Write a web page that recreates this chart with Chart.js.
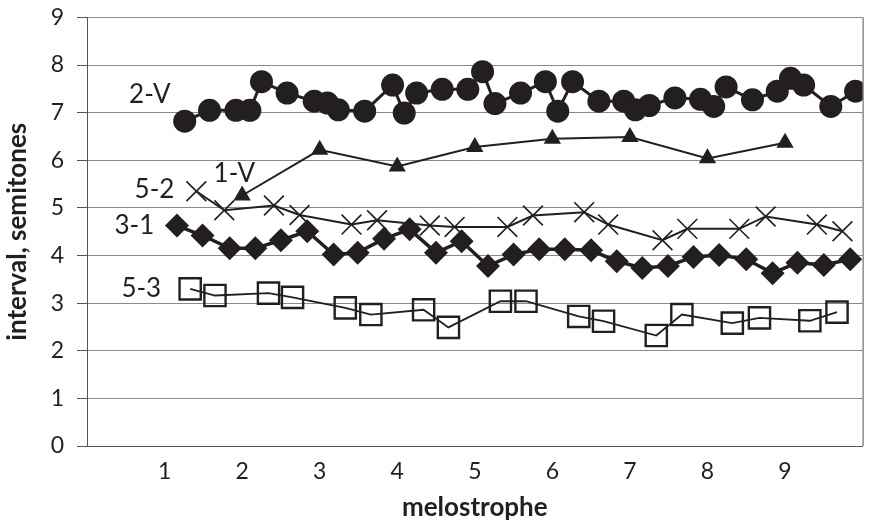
<!DOCTYPE html>
<html>
<head>
<meta charset="utf-8">
<script src="https://cdn.jsdelivr.net/npm/chart.js@4"></script>
<style>
  html, body { margin: 0; padding: 0; background: #fff; }
  #wrap { width: 880px; height: 523px; }
</style>
</head>
<body>
<div id="wrap"><canvas id="intervalChart"></canvas></div>
<script>
// x positions (melostrophe) and interval values
const v2X = [1.26, 1.58, 1.92, 2.10, 2.25, 2.58, 2.93, 3.10, 3.24, 3.58, 3.94, 4.09, 4.25, 4.58, 4.91, 5.10, 5.26, 5.59,
    5.91, 6.07, 6.26, 6.60, 6.92, 7.07, 7.25, 7.58, 7.91, 8.08, 8.24, 8.58, 8.90, 9.07, 9.24, 9.59, 9.91];
const v2Y = [6.82, 7.05, 7.05, 7.05, 7.65, 7.41, 7.24, 7.20, 7.06, 7.03, 7.58, 6.99, 7.41, 7.49, 7.49, 7.86, 7.19, 7.41,
    7.65, 7.03, 7.65, 7.24, 7.24, 7.06, 7.15, 7.31, 7.28, 7.13, 7.54, 7.27, 7.45, 7.72, 7.58, 7.13, 7.45];

const v1X = [2, 3, 4, 5, 6, 7, 8, 9];
const v1Y = [5.26, 6.22, 5.87, 6.28, 6.45, 6.49, 6.04, 6.37];

const s52X = [1.41, 1.77, 2.41, 2.74, 3.41, 3.74, 4.42, 4.74, 5.42, 5.75, 6.41, 6.72, 7.42, 7.74, 8.41, 8.75, 9.41, 9.74];
const s52Y = [5.35, 4.95, 5.05, 4.85, 4.65, 4.74, 4.63, 4.60, 4.60, 4.84, 4.91, 4.65, 4.32, 4.56, 4.56, 4.82, 4.65, 4.51];

const s31X = [1.16, 1.49, 1.84, 2.17, 2.50, 2.84, 3.18, 3.49, 3.83, 4.16, 4.50, 4.83, 5.17, 5.50, 5.83, 6.16, 6.50,
    6.83, 7.16, 7.49, 7.82, 8.15, 8.50, 8.84, 9.16, 9.50, 9.84];
const s31Y = [4.63, 4.42, 4.15, 4.15, 4.32, 4.51, 4.02, 4.06, 4.35, 4.55, 4.06, 4.30, 3.78, 4.02, 4.13, 4.13, 4.11,
    3.88, 3.74, 3.78, 3.97, 4.01, 3.92, 3.63, 3.85, 3.80, 3.92];

const s53X = [1.33, 1.65, 2.34, 2.65, 3.33, 3.66, 4.34, 4.66, 5.33, 5.66, 6.34, 6.66, 7.34, 7.67, 8.32, 8.67, 9.32, 9.67];
const s53Y = [3.30, 3.16, 3.21, 3.12, 2.90, 2.76, 2.86, 2.49, 3.04, 3.04, 2.72, 2.62, 2.32, 2.76, 2.58, 2.69, 2.63, 2.81];

const xTicks = [1, 2, 3, 4, 5, 6, 7, 8, 9];
const yTicks = [0, 1, 2, 3, 4, 5, 6, 7, 8, 9];

const ink = '#231f20';
const font = 'Lato, "Open Sans", sans-serif';

function pts(xs, ys) {
    return xs.map((x, i) => ({ x: x, y: ys[i] }));
}

// series names written beside the lines, placed in data units
const seriesLabels = [
    { text: '2-V', x: 0.81, y: 7.37 },
    { text: '1-V', x: 1.90, y: 5.72 },
    { text: '5-2', x: 0.87, y: 5.38 },
    { text: '3-1', x: 0.61, y: 4.63 },
    { text: '5-3', x: 0.70, y: 3.30 }
];

const labelPlugin = {
    id: 'seriesLabels',
    afterDatasetsDraw(chart) {
        const ctx = chart.ctx;
        const xs = chart.scales.x, ys = chart.scales.y;
        ctx.save();
        ctx.fillStyle = ink;
        ctx.font = '26px ' + font;
        ctx.textAlign = 'center';
        ctx.textBaseline = 'middle';
        seriesLabels.forEach(l => {
            ctx.fillText(l.text, xs.getPixelForValue(l.x), ys.getPixelForValue(l.y));
        });
        ctx.restore();
    }
};

// frame on the right side of the plot area
const framePlugin = {
    id: 'frame',
    beforeDatasetsDraw(chart) {
        const a = chart.chartArea;
        const ctx = chart.ctx;
        ctx.save();
        ctx.strokeStyle = '#555';
        ctx.lineWidth = 1;
        ctx.beginPath();
        ctx.moveTo(a.right + 0.5, a.top);
        ctx.lineTo(a.right + 0.5, a.bottom);
        ctx.stroke();
        ctx.restore();
    }
};

const ctx = document.getElementById('intervalChart').getContext('2d');
new Chart(ctx, {
    type: 'line',
    data: {
        datasets: [
            {
                label: '2-V', data: pts(v2X, v2Y),
                borderColor: ink, backgroundColor: ink, borderWidth: 3,
                pointStyle: 'circle', pointRadius: 11.5, pointBorderWidth: 0
            },
            {
                label: '1-V', data: pts(v1X, v1Y),
                borderColor: ink, backgroundColor: ink, borderWidth: 2,
                pointStyle: 'triangle', pointRadius: 10, pointBorderWidth: 0
            },
            {
                label: '5-2', data: pts(s52X, s52Y),
                borderColor: ink, backgroundColor: ink, borderWidth: 2,
                pointStyle: 'crossRot', pointRadius: 14, pointBorderWidth: 1.6
            },
            {
                label: '3-1', data: pts(s31X, s31Y),
                borderColor: ink, backgroundColor: ink, borderWidth: 3.5,
                pointStyle: 'rectRot', pointRadius: 12, pointBorderWidth: 0
            },
            {
                label: '5-3', data: pts(s53X, s53Y),
                borderColor: ink, backgroundColor: 'rgba(0,0,0,0)', borderWidth: 1.8,
                pointStyle: 'rect', pointRadius: 15, pointBorderWidth: 2.4
            }
        ]
    },
    options: {
        responsive: true,
        maintainAspectRatio: false,
        animation: false,
        layout: { padding: { top: 10, right: 3, left: 0, bottom: 0 } },
        plugins: {
            legend: { display: false },
            tooltip: { enabled: false }
        },
        scales: {
            x: {
                type: 'linear',
                min: 0,
                max: 10,
                afterFit: s => { s.height = 77; s.paddingLeft = 0; s.paddingRight = 0; },
                afterBuildTicks: s => { s.ticks = xTicks.map(v => ({ value: v })); },
                grid: { display: false, drawTicks: false },
                border: { display: true, color: '#555', width: 1 },
                ticks: {
                    color: ink, padding: 12,
                    font: { family: font, size: 23 },
                    maxRotation: 0
                },
                title: {
                    display: true, text: 'melostrophe', color: ink,
                    font: { family: font, size: 26, weight: 'bold' },
                    padding: { top: 0, bottom: 0 }
                }
            },
            y: {
                min: 0,
                max: 9,
                afterFit: s => { s.width = 87; s.paddingTop = 0; s.paddingBottom = 0; },
                afterBuildTicks: s => { s.ticks = yTicks.map(v => ({ value: v })); },
                grid: { color: '#8a8a8a', lineWidth: 1, drawTicks: true, tickLength: 10, tickColor: '#555' },
                border: { display: true, color: '#555', width: 1 },
                ticks: {
                    color: ink, padding: 13,
                    font: { family: font, size: 23 }
                },
                title: {
                    display: true, text: 'interval, semitones', color: ink,
                    font: { family: font, size: 26, weight: 'bold' },
                    padding: { top: 2, bottom: 0 }
                }
            }
        }
    },
    plugins: [framePlugin, labelPlugin]
});
</script>
</body>
</html>
